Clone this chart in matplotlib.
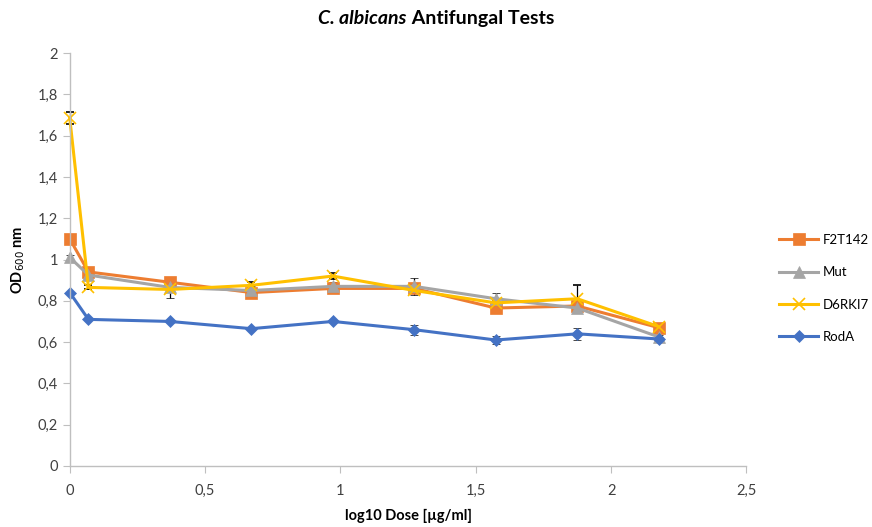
import matplotlib.pyplot as plt

plt.rcParams['font.family'] = ['Lato', 'DejaVu Sans']

# log10 of the dose series (0 = untreated control)
dose = [0, 0.069, 0.370, 0.671, 0.972, 1.273, 1.574, 1.875, 2.176]

f2t142 = [1.10, 0.94, 0.89, 0.84, 0.86, 0.86, 0.765, 0.775, 0.67]
f2t142_err = [0.01, 0.01, 0.01, 0.015, 0.015, 0.015, 0.015, 0.01, 0.01]

mut = [1.01, 0.925, 0.865, 0.85, 0.87, 0.87, 0.81, 0.765, 0.625]
mut_err = [0.01, 0.01, 0.05, 0.02, 0.02, 0.04, 0.03, 0.01, 0.01]

d6rki7 = [1.685, 0.865, 0.855, 0.875, 0.92, 0.85, 0.79, 0.81, 0.675]
d6rki7_err = [0.03, 0.01, 0.01, 0.015, 0.015, 0.01, 0.015, 0.065, 0.01]

roda = [0.84, 0.71, 0.70, 0.665, 0.70, 0.66, 0.61, 0.64, 0.615]
roda_err = [0.005, 0.005, 0.005, 0.005, 0.005, 0.025, 0.02, 0.03, 0.01]

series = [
    ("F2T142", f2t142, f2t142_err, "#ed7d31", "s", 8),
    ("Mut", mut, mut_err, "#a5a5a5", "^", 8),
    ("D6RKI7", d6rki7, d6rki7_err, "#ffc000", "x", 8),
    ("RodA", roda, roda_err, "#4472c4", "D", 6),
]

fig = plt.figure(figsize=(8.72, 5.27), dpi=100)
ax = fig.add_axes([0.080, 0.116, 0.776, 0.783])

for name, vals, err, col, mk, ms in series:
    lines = ax.errorbar(dose, vals, yerr=err, color=col, marker=mk, markersize=ms,
                        linewidth=2.2, markeredgewidth=1.2 if mk == "x" else 0.5,
                        markeredgecolor=col, ecolor="black", elinewidth=0.9,
                        capsize=3, capthick=0.9, label=name)
    for art in lines.get_children():
        art.set_clip_on(False)

ax.set_xlim(0, 2.5)
ax.set_ylim(0, 2)
ax.set_xticks([0, 0.5, 1, 1.5, 2, 2.5])
ax.set_xticklabels(["0", "0,5", "1", "1,5", "2", "2,5"])
ax.set_yticks([i * 0.2 for i in range(11)])
ax.set_yticklabels(["0", "0,2", "0,4", "0,6", "0,8", "1", "1,2", "1,4", "1,6", "1,8", "2"])

for side in ["top", "right"]:
    ax.spines[side].set_visible(False)
for side in ["left", "bottom"]:
    ax.spines[side].set_color("#bfbfbf")
    ax.spines[side].set_linewidth(1)
ax.tick_params(colors="#bfbfbf", labelcolor="#404040", labelsize=10.5, length=5)
ax.tick_params(axis="x", pad=8)

ax.set_xlabel("log10 Dose [µg/ml]", fontsize=10.5, fontweight="bold", labelpad=8)
ax.set_ylabel("OD$_{600}$ nm", fontsize=10.5, fontweight="bold", labelpad=8)

# title: italic species name followed by plain bold text, centred as one line
t1 = fig.text(0, 0.965, "C. albicans", fontsize=14, fontweight="bold",
              fontstyle="italic", va="center", ha="left")
t2 = fig.text(0, 0.965, " Antifungal Tests", fontsize=14, fontweight="bold",
              va="center", ha="left")
fig.canvas.draw()
r = fig.canvas.get_renderer()
w1 = t1.get_window_extent(r).width / fig.bbox.width
w2 = t2.get_window_extent(r).width / fig.bbox.width
x0 = 0.5 - (w1 + w2) / 2
t1.set_x(x0)
t2.set_x(x0 + w1)

handles, labels = ax.get_legend_handles_labels()
handles = [h[0] for h in handles]
ax.legend(handles, labels, loc="center left", bbox_to_anchor=(1.04, 0.43),
          borderaxespad=0, frameon=False, fontsize=9.5, labelspacing=1.55,
          handlelength=3.0, handletextpad=0.3)

fig.savefig("out.png", dpi=100)
